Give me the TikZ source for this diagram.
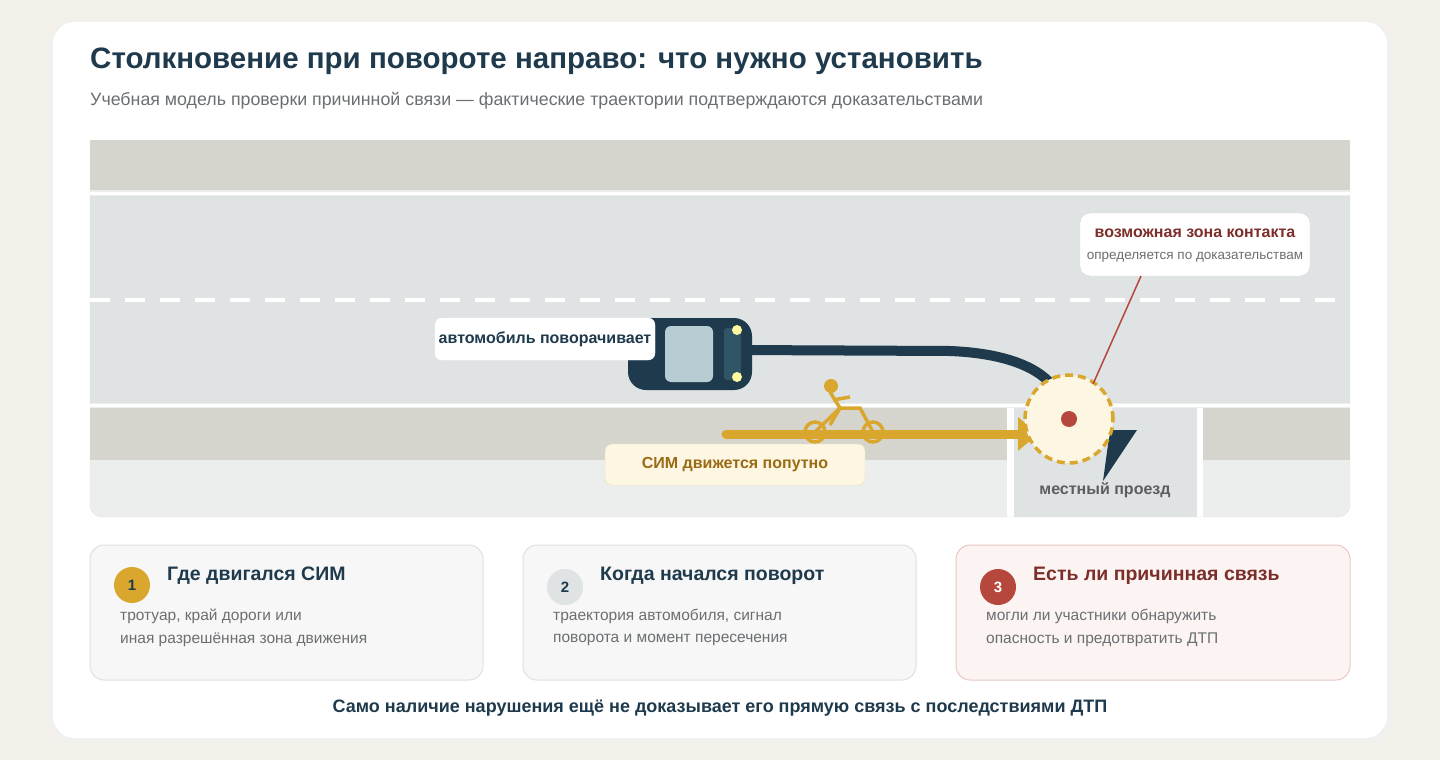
\documentclass[tikz,border=0pt]{standalone}
\usepackage{fontspec}
\setmainfont{Liberation Sans}
\usetikzlibrary{positioning}
\definecolor{bgpage}{HTML}{F3F0EA}
\definecolor{inkdark}{HTML}{1E3A4C}
\definecolor{walk}{HTML}{D6D5CD}
\definecolor{road}{HTML}{DFE3E3}
\definecolor{verge}{HTML}{ECEEED}
\definecolor{glass}{HTML}{B8CCD4}
\definecolor{roof}{HTML}{2F5566}
\definecolor{simgold}{HTML}{D9A72E}
\definecolor{simtext}{HTML}{9A6B12}
\definecolor{cream}{HTML}{FDF6E3}
\definecolor{risk}{HTML}{B5473C}
\definecolor{riskdark}{HTML}{7C2F2A}
\definecolor{grytext}{HTML}{6B6F72}
\begin{document}
\begin{tikzpicture}[x=1pt,y=-1pt,
    tag/.style={draw=#1, rounded corners=7pt, inner sep=0pt, font=\bfseries\fontsize{16}{18}\selectfont},
    card/.style={rounded corners=14pt, line width=1pt},
    badge/.style={circle, minimum size=36pt, inner sep=0pt, font=\bfseries\fontsize{15}{17}\selectfont},
    head/.style={anchor=west, inner sep=0pt, font=\bfseries\fontsize{19.5}{21}\selectfont},
    body/.style={anchor=west, inner sep=0pt, text=grytext, font=\fontsize{15.5}{17}\selectfont}
]
    % page and card
    \fill[bgpage] (0,0) rectangle (1440,760);
    \useasboundingbox (0,0) rectangle (1440,760);
    \fill[black!6, rounded corners=22pt] (50,22) rectangle (1391,742);
    \fill[white, rounded corners=22pt] (53,22) rectangle (1387,738);
    \node[anchor=west, inner sep=0pt, text=inkdark, font=\bfseries\fontsize{29.5}{32}\selectfont] (title) at (90,61) {Столкновение при повороте направо: что нужно установить};
    \node[anchor=west, inner sep=0pt, text=grytext, font=\fontsize{17.8}{20}\selectfont] (subtitle) at (90,101) {Учебная модель проверки причинной связи — фактические траектории подтверждаются доказательствами};

    % scene
    \begin{scope}
        \clip[rounded corners=12pt] (90,130) -- (90,517) -- (1350,517) -- (1350,130) -- cycle;
        \fill[verge] (90,140) rectangle (1350,517);
        \fill[walk] (90,140) rectangle (1350,190);
        \fill[road] (90,196) rectangle (1350,403);
        \fill[walk] (90,408) rectangle (1007,460);
        \fill[walk] (1203,408) rectangle (1350,460);
        \fill[white] (1007,408) rectangle (1203,517);
        \fill[road] (1014,408) rectangle (1197,517);
        \draw[white, line width=3pt] (90,193) -- (1350,193);
        \draw[white, line width=3pt] (90,405.5) -- (1350,405.5);
        \draw[white, line width=4pt, dash pattern=on 20pt off 15pt] (90,300) -- (1340,300);
    \end{scope}
    \draw[black!12, rounded corners=12pt] (90,140) -- (90,517) -- (1350,517) -- (1350,140);

    % car path
    \draw[inkdark, line width=10pt] (740,350) -- (950,351) .. controls (1000,353) and (1035,365) .. (1052,385);
    \fill[inkdark] (1110,430) -- (1137,430) -- (1103,481) -- cycle;

    % car
    \fill[inkdark, rounded corners=18pt] (628,318) rectangle (752,390);
    \fill[glass, rounded corners=6pt] (665,326) rectangle (713,382);
    \fill[roof, rounded corners=3pt] (724,328) rectangle (741,380);
    \fill[cream!70!yellow] (737,330) circle (5pt) (737,377) circle (5pt);
    \node[tag=white, fill=white, text=inkdark, minimum width=220pt, minimum height=42pt] (carlabel) at (545,339) {автомобиль поворачивает};

    % micromobility
    \draw[simgold, line width=9pt, line cap=round] (726,434) -- (1018,434);
    \fill[simgold] (1018,417) -- (1038,434) -- (1018,451) -- cycle;
    \begin{scope}[simgold, line width=3.5pt]
        \draw (815,432) circle (10pt) (873,432) circle (10pt);
        \draw (815,432) -- (840,408) -- (860,408) -- (873,432);
        \draw (830,392) -- (840,408) -- (830,425);
        \draw (833,400) -- (850,397);
        \fill (831,386) circle (7pt);
    \end{scope}
    \node[tag=simgold!40, fill=cream, text=simtext, minimum width=260pt, minimum height=41pt] (simlabel) at (735,464.5) {СИМ движется попутно};

    % contact zone
    \node[circle, draw=simgold, fill=cream, dash pattern=on 8pt off 5pt, line width=3.5pt, minimum size=88pt] (zone) at (1069,419) {};
    \fill[risk] (zone.center) circle (8pt);
    \node[text=grytext!85!black, font=\bfseries\fontsize{16}{18}\selectfont] (local) at (1105,490) {местный проезд};
    \node[draw=black!15, fill=white, rounded corners=10pt, minimum width=230pt, minimum height=63pt] (callout) at (1195,244.5) {};
    \node[text=riskdark, font=\bfseries\fontsize{16}{18}\selectfont] at (1195,233) {возможная зона контакта};
    \node[text=grytext, font=\fontsize{13.5}{15}\selectfont] at (1195,257) {определяется по доказательствам};
    \draw[risk, line width=1.5pt] (1141,276) -- (1093,384);

    % cards
    \draw[card, draw=black!12, fill=black!3] (90,545) rectangle (483,680);
    \node[badge, fill=simgold, text=inkdark] (b1) at (132,585) {1};
    \node[head, text=inkdark] at (167,576) {Где двигался СИМ};
    \node[body] at (120,616) {тротуар, край дороги или};
    \node[body] at (120,640) {иная разрешённая зона движения};

    \draw[card, draw=black!12, fill=black!3] (523,545) rectangle (916,680);
    \node[badge, fill=road, text=inkdark] (b2) at (565,587) {2};
    \node[head, text=inkdark] at (600,576) {Когда начался поворот};
    \node[body] at (553,616) {траектория автомобиля, сигнал};
    \node[body] at (553,640) {поворота и момент пересечения};

    \draw[card, draw=risk!30, fill=risk!6] (956,545) rectangle (1350,680);
    \node[badge, fill=risk, text=white] (b3) at (998,587) {3};
    \node[head, text=riskdark] at (1033,576) {Есть ли причинная связь};
    \node[body] at (986,616) {могли ли участники обнаружить};
    \node[body] at (986,640) {опасность и предотвратить ДТП};

    \node[text=inkdark, font=\bfseries\fontsize{18}{20}\selectfont] (footer) at (720,708) {Само наличие нарушения ещё не доказывает его прямую связь с последствиями ДТП};
\end{tikzpicture}
\end{document}
